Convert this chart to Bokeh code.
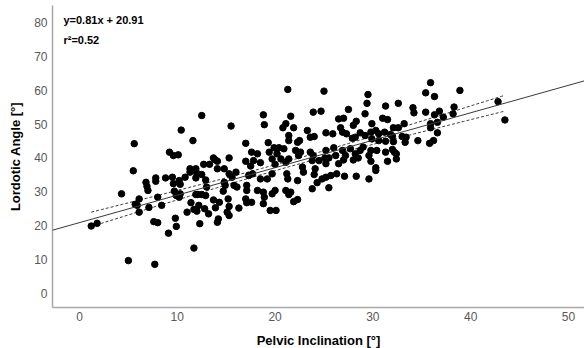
import numpy as np
from bokeh.plotting import figure
from bokeh.models import Slope, Label, Range1d, FixedTicker
from bokeh.embed import file_html
from bokeh.resources import INLINE

# ---- data ----
pelvic_inclination = [
    1.2, 1.8, 5.0, 7.7, 5.7, 5.9, 6.1, 7.1, 7.6, 8.0, 8.4, 9.1, 9.8, 9.9, 11.0, 11.4, 11.7, 12.0, 11.7, 12.3, 12.2,
    4.3, 6.8, 6.9, 7.0, 7.8, 7.8, 8.8, 9.5, 9.6, 10.2, 10.3, 10.8, 11.3, 11.9, 12.0, 12.5, 12.9, 13.0, 14.8, 14.7,
    6.1, 8.0, 9.7, 9.9, 10.2, 10.3, 11.9, 12.1, 12.5, 12.9, 12.8, 13.2, 13.7, 13.9, 14.3, 14.2, 14.1,
    12.5, 10.4, 11.6, 5.6, 9.2, 9.6, 10.1, 11.3, 11.9, 12.7, 13.3, 13.7, 13.9, 14.1, 14.1, 14.8, 5.5,
    21.3, 25.0, 29.5, 15.5, 18.8, 18.9, 21.6, 21.1, 20.8, 21.9, 23.9, 24.7, 23.3, 23.6, 24.0, 21.4, 21.4, 22.3, 22.5,
    25.2, 25.9, 26.5, 27.0, 27.5, 26.7, 26.9, 27.3, 28.0, 28.3, 29.2, 29.4, 28.2, 27.9, 28.7, 29.2,
    17.0, 19.3, 17.6, 18.2, 15.3, 17.0, 17.8, 18.5, 17.5, 19.4, 19.9, 20.4, 20.9, 19.7, 20.2, 20.6, 21.1, 21.4, 20.0,
    22.1, 22.4, 22.6, 22.8, 23.6, 23.9, 25.2, 25.1, 25.5, 26.0, 26.2, 26.9, 27.2, 27.0, 27.7, 28.2, 28.7, 29.0, 28.0,
    28.5, 23.8, 24.5, 25.2, 26.5, 29.6, 24.1,
    15.3, 15.6, 16.0, 17.3, 17.7, 18.5, 19.2, 19.7, 21.2, 21.3, 22.3, 22.9, 24.0, 24.3, 24.8, 25.2, 25.7, 26.3, 27.1,
    28.3, 29.6, 23.8, 25.5, 14.9, 15.8, 16.1, 17.1, 17.1, 18.2, 18.8, 18.9, 19.7, 20.0, 21.1, 21.4, 21.6,
    15.2, 17.0, 17.1, 17.6, 18.8, 21.9, 22.3, 15.3, 16.3, 15.1, 15.3, 19.5, 20.1,
    35.9, 35.4, 36.3, 38.9, 31.3, 32.6, 34.1, 34.2, 35.4, 36.3, 36.8, 38.3, 38.2, 37.2, 36.6, 35.9, 35.9, 42.8, 43.5,
    31.0, 31.5, 33.2, 32.1, 32.6, 29.8, 30.3, 30.6, 31.2, 31.8, 32.0, 33.0, 33.4, 36.6, 34.6, 35.8, 36.2,
    29.9, 30.6, 31.3, 32.1, 33.3, 30.4, 31.3, 32.0, 32.2, 32.4, 29.8, 31.5, 32.4, 29.8, 30.3, 29.9, 30.3,
]
lordotic_angle = [
    19.9, 20.7, 9.7, 8.6, 26.3, 26.0, 24.0, 25.4, 21.2, 20.9, 26.0, 17.8, 22.2, 19.8, 24.0, 26.8, 24.8, 24.3, 13.4, 20.6, 26.0,
    29.4, 32.8, 31.6, 30.4, 34.1, 33.1, 34.1, 34.3, 32.4, 33.3, 32.2, 34.3, 35.8, 34.1, 35.5, 35.1, 33.5, 31.4, 32.8, 30.2,
    27.9, 28.4, 30.2, 28.9, 28.4, 29.4, 29.2, 29.2, 29.2, 28.9, 25.0, 23.5, 27.6, 25.3, 26.9, 22.0, 21.0,
    52.5, 48.2, 45.1, 44.2, 41.7, 40.7, 40.9, 36.8, 36.8, 38.1, 38.1, 40.0, 39.4, 39.0, 36.8, 36.8, 36.2,
    60.2, 59.7, 58.7, 49.4, 52.7, 49.8, 52.3, 50.1, 48.9, 48.9, 53.5, 53.8, 48.1, 46.1, 46.3, 46.6, 45.1, 44.6, 45.1,
    47.4, 47.1, 51.5, 51.7, 54.3, 48.9, 47.6, 47.1, 49.6, 50.8, 53.0, 56.1, 46.1, 45.8, 47.4, 46.6,
    44.3, 44.5, 41.7, 41.2, 40.0, 39.0, 39.2, 38.6, 37.6, 41.7, 43.0, 43.0, 42.7, 39.7, 41.2, 39.7, 38.7, 39.7, 38.1,
    42.2, 40.7, 41.7, 37.3, 41.7, 40.7, 42.2, 40.0, 40.0, 43.0, 40.7, 42.2, 40.7, 39.4, 42.7, 41.2, 42.2, 43.2, 39.4,
    40.0, 39.2, 39.2, 38.3, 38.3, 40.7, 36.8,
    35.3, 34.3, 35.8, 34.8, 35.3, 33.8, 33.8, 35.3, 35.3, 33.8, 33.3, 35.8, 35.1, 32.7, 33.8, 34.3, 34.8, 35.3, 34.6,
    34.6, 33.8, 30.9, 31.2, 31.9, 31.9, 31.4, 31.9, 30.4, 30.4, 29.9, 28.4, 29.4, 30.4, 30.4, 29.2, 29.9,
    27.9, 27.9, 26.8, 26.9, 26.5, 27.1, 27.7, 25.7, 25.2, 24.0, 23.0, 24.5, 24.5,
    62.2, 59.2, 58.1, 59.9, 55.3, 56.1, 54.8, 53.3, 53.5, 52.7, 53.8, 55.0, 53.0, 52.0, 50.5, 50.1, 48.9, 56.6, 51.2,
    51.7, 51.3, 50.1, 48.9, 48.9, 47.6, 48.1, 47.1, 47.6, 46.9, 46.4, 46.3, 46.1, 47.4, 45.1, 44.3, 45.1,
    45.6, 45.1, 44.9, 44.8, 44.6, 42.2, 41.7, 42.5, 41.7, 41.2, 42.2, 39.0, 39.7, 39.0, 37.1, 50.1, 36.3,
]
fit_slope = 0.81
fit_intercept = 20.91
r_squared = 0.52
x_ticks = [0, 10, 20, 30, 40, 50]
y_ticks = [0, 10, 20, 30, 40, 50, 60, 70, 80]

FONT = "Liberation Sans"

p = figure(
    frame_width=532, frame_height=302,
    min_border_left=52, min_border_right=0, min_border_top=5, min_border_bottom=41,
    x_range=Range1d(-2.76, 51.64), y_range=Range1d(-4.13, 84.96),
    output_backend="svg", toolbar_location=None,
    background_fill_color="white", border_fill_color="white",
)
p.outline_line_color = None
p.xgrid.visible = False
p.ygrid.visible = False

for ax in (p.xaxis[0], p.yaxis[0]):
    ax.axis_line_color = "#a8a8a8"
    ax.axis_line_width = 1.5
    ax.major_tick_out = 0
    ax.major_tick_in = 0
    ax.minor_tick_out = 0
    ax.minor_tick_in = 0
    ax.major_label_text_font = FONT
    ax.major_label_text_font_size = "12px"
    ax.major_label_text_color = "#595959"
    ax.axis_label_text_font = FONT
    ax.axis_label_text_font_size = "13px"
    ax.axis_label_text_font_style = "bold"
    ax.axis_label_text_color = "black"

p.xaxis.ticker = FixedTicker(ticks=x_ticks)
p.yaxis.ticker = FixedTicker(ticks=y_ticks)
p.xaxis.axis_label = "Pelvic Inclination [°]"
p.yaxis.axis_label = "Lordotic Angle [°]"
p.xaxis.major_label_standoff = 4
p.yaxis.major_label_standoff = 5
p.xaxis.axis_label_standoff = 9
p.yaxis.axis_label_standoff = 8

x = np.array(pelvic_inclination)
y = np.array(lordotic_angle)

# regression line over the whole plot
p.add_layout(Slope(gradient=fit_slope, y_intercept=fit_intercept,
                   line_color="#3a3a3a", line_width=1))

# 95% confidence band for the mean
n = len(x)
resid = y - (fit_slope * x + fit_intercept)
s = np.sqrt(np.sum(resid ** 2) / (n - 2))
xbar = x.mean()
sxx = np.sum((x - xbar) ** 2)
xs = np.linspace(x.min(), x.max(), 120)
yhat = fit_slope * xs + fit_intercept
se = s * np.sqrt(1.0 / n + (xs - xbar) ** 2 / sxx)
tval = 1.97
p.line(xs, yhat + tval * se, line_color="#3a3a3a", line_width=1, line_dash="3 2")
p.line(xs, yhat - tval * se, line_color="#3a3a3a", line_width=1, line_dash="3 2")

p.scatter(x, y, size=6.5, color="black", line_color="black")

p.add_layout(Label(x=-1.64, y=80.7, text=f"y={fit_slope}x + {fit_intercept}",
                   text_font=FONT, text_font_size="11px", text_font_style="bold",
                   text_baseline="middle", text_color="black"))
p.add_layout(Label(x=-1.64, y=74.8, text=f"r²={r_squared}",
                   text_font=FONT, text_font_size="11px", text_font_style="bold",
                   text_baseline="middle", text_color="black"))

open("out.html", "w").write(file_html(p, INLINE))
